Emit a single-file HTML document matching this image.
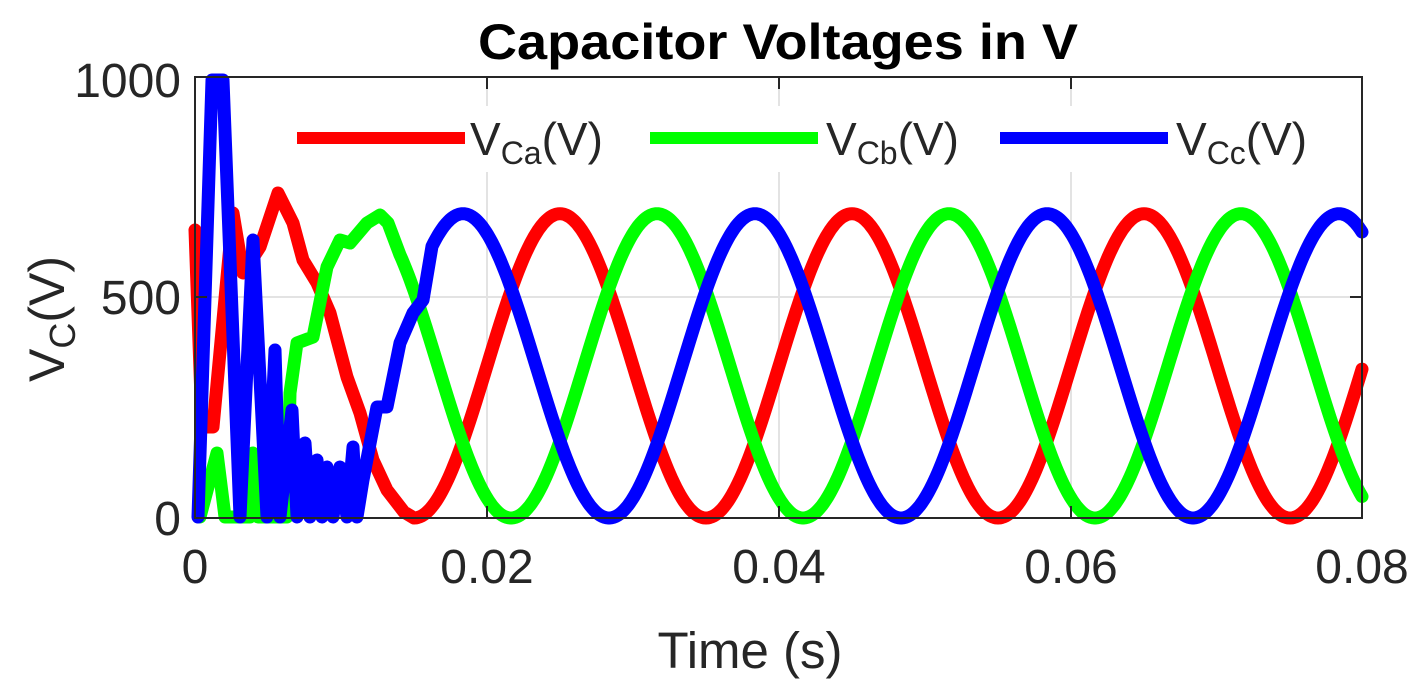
<!DOCTYPE html>
<html><head><style>
html,body{margin:0;padding:0;background:#fff;}
svg{display:block;font-family:"Liberation Sans",Arial,sans-serif;}
</style></head><body>
<svg id="s" width="1411" height="692" viewBox="0 0 1411 692" xmlns="http://www.w3.org/2000/svg">
<rect width="1411" height="692" fill="#fff"/>
<text x="478" y="59" font-size="50" font-weight="bold" fill="#000" textLength="600" lengthAdjust="spacingAndGlyphs">Capacitor Voltages in V</text>
<g stroke="#e3e3e3" stroke-width="2">
<line x1="487" y1="77" x2="487" y2="518"/><line x1="779" y1="77" x2="779" y2="518"/><line x1="1071" y1="77" x2="1071" y2="518"/>
<line x1="195" y1="297" x2="1362" y2="297"/>
</g>
<g id="curves" fill="none" stroke-width="13" stroke-linejoin="round" stroke-linecap="round"></g>
<rect x="195" y="77" width="1167" height="441" fill="none" stroke="#262626" stroke-width="2"/>
<g stroke="#262626" stroke-width="2">
<line x1="487" y1="518" x2="487" y2="506"/><line x1="779" y1="518" x2="779" y2="506"/><line x1="1071" y1="518" x2="1071" y2="506"/>
<line x1="487" y1="77" x2="487" y2="89"/><line x1="779" y1="77" x2="779" y2="89"/><line x1="1071" y1="77" x2="1071" y2="89"/>
<line x1="195" y1="297" x2="207" y2="297"/><line x1="1362" y1="297" x2="1350" y2="297"/>
</g>
<rect x="285" y="106" width="1055" height="66" fill="#fff"/>
<g stroke-width="12">
<line x1="297" y1="138" x2="465" y2="138" stroke="#ff0000"/>
<line x1="650" y1="138" x2="818" y2="138" stroke="#00ff00"/>
<line x1="1000" y1="138" x2="1168" y2="138" stroke="#0000ff"/>
</g>
<g font-size="46" fill="#262626">
<text x="470" y="155">V<tspan font-size="32" dy="9">Ca</tspan><tspan dy="-9">(V)</tspan></text>
<text x="826" y="155">V<tspan font-size="32" dy="9">Cb</tspan><tspan dy="-9">(V)</tspan></text>
<text x="1176" y="155">V<tspan font-size="32" dy="9">Cc</tspan><tspan dy="-9">(V)</tspan></text>
</g>
<g font-size="48" fill="#262626" text-anchor="end">
<text x="181" y="97">1000</text><text x="181" y="314">500</text><text x="181" y="535">0</text>
</g>
<g font-size="48" fill="#262626" text-anchor="middle">
<text x="195" y="583">0</text><text x="487" y="583">0.02</text><text x="779" y="583">0.04</text><text x="1071" y="583">0.06</text><text x="1362" y="583">0.08</text>
</g>
<text x="750" y="668" font-size="51" fill="#262626" text-anchor="middle">Time (s)</text>
<text transform="translate(64,382) rotate(-90)" font-size="50" fill="#262626">V<tspan font-size="36" dy="11">C</tspan><tspan dy="-11">(V)</tspan></text>
</svg>
<script>
function sine(peak,x0,x1){var d="";for(var x=x0;x<=x1;x+=2){var v=345+345*Math.cos(2*Math.PI*(x-peak)/292);d+=(d?"L":"M")+x+","+(518-v*0.441).toFixed(1);}return d;}
function pl(a){return "M"+a.join("L");}
var red=pl(["195,230","202,427","213,427","233,213","243,273","260,247","278,193","293,223","303,260","317,283","330,313","347,377","360,413","373,460","387,490","404,512"])+sine(560,414,1362).replace("M","L");
var green=pl(["200,517","217,453","225,517","250,517","253,453","258,517","287,517","290,393","297,343","313,337","327,267","340,240","350,243","367,223","380,215","388,223"])+sine(657,400,1362).replace("M","L");
var blue=pl(["198,517","212,80","223,80","240,517","253,240","267,517","275,350","280,517","292,410","297,517","305,443","310,517","317,460","322,517","327,467","333,517","340,467","347,517","353,447","357,517","363,480","377,407","387,407","400,343","413,313","423,300"])+sine(463,432,1362).replace("M","L");
var g=document.getElementById("curves");
[["#ff0000",red],["#00ff00",green],["#0000ff",blue]].forEach(function(c){var p=document.createElementNS("http://www.w3.org/2000/svg","path");p.setAttribute("d",c[1]);p.setAttribute("stroke",c[0]);g.appendChild(p);});
</script>
</body></html>
